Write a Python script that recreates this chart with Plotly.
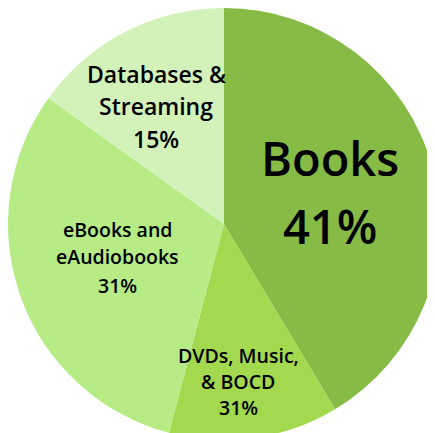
import plotly.graph_objects as go

categories = ["Books", "DVDs, Music, & BOCD", "eBooks and eAudiobooks", "Databases & Streaming"]
values = [41.4, 12.7, 30.8, 15.1]
label_lines = [["Books"], ["DVDs, Music,", "& BOCD"], ["eBooks and", "eAudiobooks"], ["Databases &", "Streaming"]]
pct_labels = ["41%", "31%", "31%", "15%"]
colors = ["#86BB45", "#A2D94F", "#B6EB86", "#D3F2BA"]

W, H = 432, 432
OFF = 8  # default body margin of the page

fig = go.Figure(go.Pie(
    labels=categories, values=values, sort=False, direction="clockwise", rotation=0,
    marker=dict(colors=colors, line=dict(width=0)),
    textinfo="none", hoverinfo="label+percent", showlegend=False,
))

# label placement (page pixel centres of each text line) and font sizes
layout_spec = [
    dict(x=330, ys=[158, 226], sizes=[47, 47]),
    dict(x=238, ys=[355, 381, 407], sizes=[19.5, 19.5, 19.5]),
    dict(x=117, ys=[230, 257, 285], sizes=[19.5, 19.5, 19.5]),
    dict(x=156, ys=[74, 106, 139], sizes=[23, 23, 23]),
]

annotations = []
for lines, pct, spec in zip(label_lines, pct_labels, layout_spec):
    for txt, py, fs in zip(lines + [pct], spec["ys"], spec["sizes"]):
        annotations.append(dict(
            text=txt, x=(spec["x"] - OFF) / W, y=1 - (py - OFF) / H,
            xref="paper", yref="paper", showarrow=False,
            xanchor="center", yanchor="middle",
            font=dict(family="Open Sans", size=fs, color="#000000", weight=600),
        ))

fig.update_layout(
    width=W, height=H, margin=dict(l=0, r=0, t=0, b=0),
    paper_bgcolor="white", plot_bgcolor="white",
    annotations=annotations,
)

fig.write_html(
    "out.html",
    config={"displayModeBar": False},
    post_script="document.documentElement.style.overflow='hidden';document.body.style.overflow='hidden';",
)
